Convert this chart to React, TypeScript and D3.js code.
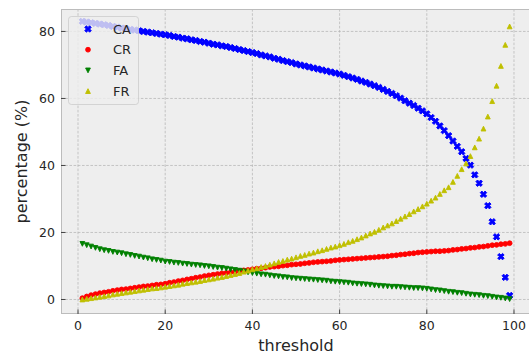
import React from 'react';
import * as d3 from 'd3';

const thresholds: number[] = d3.range(1, 100);

const CA: number[] = [
  83.0, 82.8, 82.6, 82.4, 82.2, 82.0, 81.8, 81.5, 81.3, 81.0,
  80.8, 80.6, 80.4, 80.2, 80.0, 79.8, 79.6, 79.4, 79.2, 79.0,
  78.8, 78.5, 78.3, 78.0, 77.8, 77.5, 77.3, 77.0, 76.8, 76.5,
  76.2, 76.0, 75.7, 75.5, 75.2, 74.9, 74.6, 74.3, 74.0, 73.7,
  73.4, 73.0, 72.7, 72.4, 72.0, 71.7, 71.3, 71.0, 70.7, 70.3,
  70.0, 69.7, 69.4, 69.1, 68.8, 68.5, 68.2, 67.9, 67.6, 67.3,
  66.9, 66.5, 66.1, 65.7, 65.2, 64.8, 64.3, 63.8, 63.3, 62.7,
  62.1, 61.5, 60.8, 60.1, 59.3, 58.6, 57.9, 57.1, 56.3, 55.4,
  54.3, 53.2, 51.8, 50.4, 48.9, 47.3, 45.7, 44.1, 42.1, 40.1,
  37.2, 34.7, 31.4, 28.0, 23.2, 18.7, 12.8, 6.6, 1.2,
];

const CR: number[] = [
  0.4, 0.9, 1.3, 1.6, 1.9, 2.1, 2.3, 2.6, 2.8, 3.0,
  3.1, 3.3, 3.5, 3.7, 3.9, 4.0, 4.2, 4.4, 4.5, 4.7,
  5.0, 5.2, 5.5, 5.7, 6.0, 6.2, 6.5, 6.7, 7.0, 7.2,
  7.4, 7.6, 7.8, 7.9, 8.1, 8.3, 8.5, 8.7, 8.8, 9.0,
  9.2, 9.3, 9.5, 9.7, 9.8, 9.9, 10.1, 10.2, 10.4, 10.5,
  10.6, 10.8, 10.9, 11.1, 11.2, 11.3, 11.4, 11.5, 11.7, 11.8,
  11.9, 12.0, 12.1, 12.2, 12.3, 12.4, 12.5, 12.6, 12.7, 12.8,
  12.9, 13.1, 13.2, 13.4, 13.5, 13.7, 13.8, 14.0, 14.1, 14.2,
  14.3, 14.4, 14.4, 14.5, 14.6, 14.8, 14.9, 15.1, 15.2, 15.4,
  15.5, 15.7, 15.8, 16.0, 16.2, 16.3, 16.5, 16.6, 16.8,
];

const FA: number[] = [
  16.6, 16.2, 15.8, 15.4, 15.0, 14.7, 14.5, 14.2, 14.0, 13.8,
  13.5, 13.3, 13.0, 12.8, 12.5, 12.3, 12.0, 11.8, 11.6, 11.3,
  11.2, 11.0, 10.9, 10.7, 10.6, 10.4, 10.3, 10.2, 10.0, 9.9,
  9.7, 9.5, 9.4, 9.2, 9.0, 8.8, 8.6, 8.4, 8.1, 7.9,
  7.7, 7.5, 7.4, 7.2, 7.0, 6.9, 6.7, 6.6, 6.4, 6.3,
  6.2, 6.1, 6.0, 5.9, 5.8, 5.7, 5.6, 5.4, 5.3, 5.2,
  5.1, 5.0, 4.8, 4.7, 4.6, 4.5, 4.4, 4.2, 4.1, 4.0,
  3.9, 3.8, 3.8, 3.7, 3.6, 3.5, 3.4, 3.4, 3.3, 3.2,
  3.0, 2.8, 2.7, 2.5, 2.3, 2.2, 2.0, 1.9, 1.7, 1.5,
  1.4, 1.3, 1.1, 1.0, 0.8, 0.6, 0.5, 0.3, 0.1,
];

const FR: number[] = [
  0.0, 0.2, 0.4, 0.6, 0.8, 1.0, 1.2, 1.5, 1.7, 1.9,
  2.1, 2.3, 2.5, 2.7, 2.9, 3.1, 3.3, 3.4, 3.6, 3.8,
  4.0, 4.2, 4.4, 4.7, 4.9, 5.1, 5.3, 5.5, 5.8, 6.0,
  6.2, 6.5, 6.7, 7.0, 7.3, 7.6, 7.9, 8.3, 8.6, 9.0,
  9.3, 9.7, 10.0, 10.4, 10.8, 11.2, 11.5, 11.9, 12.2, 12.6,
  13.0, 13.3, 13.7, 14.0, 14.4, 14.7, 15.1, 15.5, 15.8, 16.2,
  16.6, 17.1, 17.5, 18.0, 18.5, 19.1, 19.7, 20.2, 20.8, 21.5,
  22.1, 22.7, 23.4, 24.1, 24.8, 25.5, 26.3, 27.0, 27.8, 28.6,
  29.5, 30.4, 31.5, 32.6, 33.5, 35.1, 36.9, 38.9, 40.6, 42.8,
  45.4, 48.0, 51.0, 54.6, 59.2, 63.8, 69.7, 76.0, 81.5,
];

const xTicks: number[] = [0, 20, 40, 60, 80, 100];
const yTicks: number[] = [0, 20, 40, 60, 80];
const seriesNames: string[] = ['CA', 'CR', 'FA', 'FR'];
const seriesColors: string[] = ['#0000ff', '#ff0000', '#008000', '#bfbf00'];
const seriesValues: number[][] = [CA, CR, FA, FR];

const W = 529;
const H = 356;
const L = 61, R = 531, T = 9, B = 314;

const FONT = 'DejaVu Sans, sans-serif';

function markerPath(kind: string): string {
  if (kind === 'CA') {
    const p = d3.symbol(d3.symbolCross, 26)();
    return p || '';
  }
  if (kind === 'CR') {
    const p = d3.path();
    p.arc(0, 0, 2.4, 0, Math.PI * 2);
    return p.toString();
  }
  if (kind === 'FA') {
    return 'M0,2.4L-2.4,-2.4L2.4,-2.4Z';
  }
  return 'M0,-2.4L-2.4,2.4L2.4,2.4Z';
}

function Marker({ kind, color, cx, cy }: { kind: string; color: string; cx: number; cy: number }) {
  const rot = kind === 'CA' ? ' rotate(45)' : '';
  return (
    <path
      d={markerPath(kind)}
      transform={`translate(${cx},${cy})${rot}`}
      fill={color}
      stroke={color}
      strokeWidth={0.9}
      strokeLinejoin="miter"
    />
  );
}

export default function App() {
  const x = d3.scaleLinear().domain([-3.9, 103.9]).range([L, R]);
  const y = d3.scaleLinear().domain([-4.33, 86.7]).range([B, T]);

  const legendX = 68, legendY = 16, legendW = 70, legendH = 88;
  const rowY = (i: number) => 29 + i * 20.7;

  return (
    <svg
      width={W}
      height={H}
      viewBox={`0 0 ${W} ${H}`}
      style={{ position: 'absolute', left: 0, top: 0, background: '#ffffff' }}
    >
      <defs>
        <clipPath id="plotclip">
          <rect x={L} y={T} width={R - L} height={B - T} />
        </clipPath>
      </defs>
      <rect x={0} y={0} width={W} height={H} fill="#ffffff" />
      <rect x={L} y={T} width={R - L} height={B - T} fill="#eeeeee" />
      {/* grid */}
      <g stroke="#b2b2b2" strokeWidth={0.7} strokeDasharray="2.6,1.6">
        {xTicks.map((t) => (
          <line key={'gx' + t} x1={x(t)} x2={x(t)} y1={T} y2={B} />
        ))}
        {yTicks.map((t) => (
          <line key={'gy' + t} x1={L} x2={R} y1={y(t)} y2={y(t)} />
        ))}
      </g>
      {/* data */}
      <g clipPath="url(#plotclip)">
        {seriesValues.map((vals, si) => (
          <g key={seriesNames[si]}>
            {vals.map((v, i) => (
              <Marker
                key={i}
                kind={seriesNames[si]}
                color={seriesColors[si]}
                cx={x(thresholds[i])}
                cy={y(v)}
              />
            ))}
          </g>
        ))}
      </g>
      {/* spines */}
      <rect x={L + 0.5} y={T + 0.5} width={R - L - 1} height={B - T - 1} fill="none" stroke="#bcbcbc" strokeWidth={1} />
      {/* ticks */}
      <g stroke="#333333" strokeWidth={0.9}>
        {xTicks.map((t) => (
          <line key={'tx' + t} x1={x(t)} x2={x(t)} y1={B} y2={B - 4.5} />
        ))}
        {yTicks.map((t) => (
          <line key={'ty' + t} x1={L} x2={L + 4.5} y1={y(t)} y2={y(t)} />
        ))}
      </g>
      {/* tick labels */}
      <g fontFamily={FONT} fontSize={12.5} fill="#262626">
        {xTicks.map((t) => (
          <text key={'lx' + t} x={x(t)} y={B + 15.5} textAnchor="middle">
            {t}
          </text>
        ))}
        {yTicks.map((t) => (
          <text key={'ly' + t} x={L - 6} y={y(t)} textAnchor="end" dominantBaseline="central">
            {t}
          </text>
        ))}
      </g>
      {/* axis labels */}
      <text x={(L + R) / 2} y={351} textAnchor="middle" fontFamily={FONT} fontSize={16} fill="#262626">
        threshold
      </text>
      <text
        transform={`translate(27,${(T + B) / 2}) rotate(-90)`}
        textAnchor="middle"
        fontFamily={FONT}
        fontSize={16}
        fill="#262626"
      >
        percentage (%)
      </text>
      {/* legend */}
      <rect
        x={legendX + 0.5}
        y={legendY + 0.5}
        width={legendW}
        height={legendH}
        rx={3}
        fill="#eeeeee"
        fillOpacity={0.8}
        stroke="#cccccc"
        strokeOpacity={0.8}
        strokeWidth={1}
      />
      {seriesNames.map((n, i) => (
        <g key={'leg' + n}>
          <Marker kind={n} color={seriesColors[i]} cx={88} cy={rowY(i)} />
          <text x={113} y={rowY(i)} dominantBaseline="central" fontFamily={FONT} fontSize={13} fill="#262626">
            {n}
          </text>
        </g>
      ))}
    </svg>
  );
}
